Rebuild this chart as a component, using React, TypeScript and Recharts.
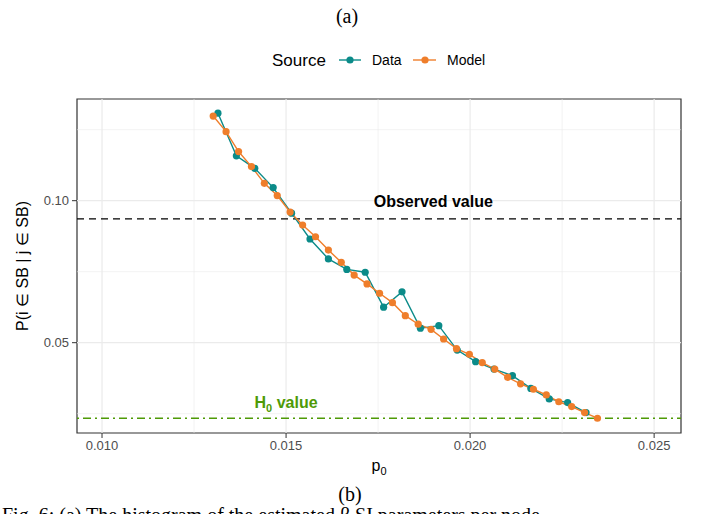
import React from 'react';
import { LineChart, Line, XAxis, YAxis, ReferenceLine, ReferenceArea, ReferenceDot } from 'recharts';

// p0 grid and P(i in SB | j in SB)
const dataP0 = [
  0.01315, 0.01365, 0.01415, 0.01465, 0.01515, 0.01565, 0.01615, 0.01665, 0.01715, 0.01765, 0.01815,
  0.01865, 0.01915, 0.01965, 0.02015, 0.02065, 0.02115, 0.02165, 0.02215, 0.02265, 0.02315,
];
const dataProb = [
  0.1308, 0.1158, 0.1114, 0.1046, 0.0956, 0.0865, 0.0795, 0.0758, 0.0748, 0.0625, 0.0679,
  0.0551, 0.056, 0.0474, 0.0433, 0.0407, 0.0384, 0.0339, 0.0302, 0.0289, 0.0254,
];
const modelP0 = [
  0.01302, 0.01337, 0.01371, 0.01406, 0.01441, 0.01476, 0.01511, 0.01545, 0.0158, 0.01615, 0.0165,
  0.01685, 0.0172, 0.01754, 0.01789, 0.01824, 0.01859, 0.01894, 0.01928, 0.01963, 0.01998, 0.02033,
  0.02067, 0.02102, 0.02137, 0.02172, 0.02207, 0.02241, 0.02276, 0.02311, 0.02346,
];
const modelProb = [
  0.1298, 0.1243, 0.1173, 0.112, 0.1061, 0.1018, 0.096, 0.0914, 0.0873, 0.0826, 0.0783,
  0.0738, 0.0707, 0.0674, 0.0641, 0.0595, 0.0565, 0.0547, 0.0513, 0.0479, 0.0459, 0.043,
  0.0407, 0.0378, 0.0355, 0.0336, 0.0316, 0.0292, 0.0275, 0.0254, 0.0234,
];

const observedValue = 0.0936;
const h0Value = 0.0234;

const xTicks = [0.01, 0.015, 0.02, 0.025];
const xMinor = [0.0125, 0.0175, 0.0225];
const yTicks = [0.05, 0.1];
const yMinor = [0.025, 0.075, 0.125];
const xDomain: [number, number] = [0.00932, 0.02573];
const yDomain: [number, number] = [0.0182, 0.1358];

const TEAL = '#0b8b89';
const ORANGE = '#ef7e2b';
const GREEN = '#4e9a06';
const FONT = '"Liberation Sans", Arial, sans-serif';
const SERIF = '"Liberation Serif", "Times New Roman", serif';

const dataRows = dataP0.map((x, i) => ({ x, y: dataProb[i] }));
const modelRows = modelP0.map((x, i) => ({ x, y: modelProb[i] }));

export default function App() {
  return (
    <div style={{ position: 'relative', width: 701, height: 514, background: '#fff', overflow: 'hidden' }}>
      <style>{'body{margin:0}'}</style>
      <LineChart width={701} height={514} margin={{ top: 99, right: 20, left: 0, bottom: 0 }}>
        <XAxis
          type="number"
          dataKey="x"
          domain={xDomain}
          ticks={xTicks}
          allowDataOverflow
          height={81}
          axisLine={false}
          tickSize={5}
          tickMargin={3}
          tickLine={{ stroke: '#333333' }}
          tick={{ fill: '#4d4d4d', fontSize: 13, fontFamily: FONT }}
          tickFormatter={(v: number) => v.toFixed(3)}
        />
        <YAxis
          type="number"
          dataKey="y"
          domain={yDomain}
          ticks={yTicks}
          allowDataOverflow
          width={77}
          axisLine={false}
          tickSize={5}
          tickMargin={3}
          tickLine={{ stroke: '#333333' }}
          tick={{ fill: '#4d4d4d', fontSize: 13, fontFamily: FONT }}
          tickFormatter={(v: number) => v.toFixed(2)}
        />
        {xMinor.map(v => <ReferenceLine key={'xm' + v} x={v} stroke="#ebebeb" strokeWidth={0.6} />)}
        {yMinor.map(v => <ReferenceLine key={'ym' + v} y={v} stroke="#ebebeb" strokeWidth={0.6} />)}
        {xTicks.map(v => <ReferenceLine key={'xM' + v} x={v} stroke="#ebebeb" strokeWidth={1.2} />)}
        {yTicks.map(v => <ReferenceLine key={'yM' + v} y={v} stroke="#ebebeb" strokeWidth={1.2} />)}

        <ReferenceLine y={observedValue} stroke="#000" strokeWidth={1.3} strokeDasharray="7 5" />
        <ReferenceLine y={h0Value} stroke={GREEN} strokeWidth={1.3} strokeDasharray="2 4 8 4" />

        <Line
          data={dataRows}
          dataKey="y"
          name="Data"
          stroke={TEAL}
          strokeWidth={1.4}
          dot={{ r: 3.6, fill: TEAL, stroke: TEAL, strokeWidth: 0 }}
          isAnimationActive={false}
        />
        <Line
          data={modelRows}
          dataKey="y"
          name="Model"
          stroke={ORANGE}
          strokeWidth={1.4}
          dot={{ r: 3.6, fill: ORANGE, stroke: ORANGE, strokeWidth: 0 }}
          isAnimationActive={false}
        />

        <ReferenceDot
          x={0.019}
          y={0.1}
          r={1}
          fill="none"
          stroke="none"
          label={({ viewBox }: any) => (
            <text
              x={viewBox.x + viewBox.width / 2}
              y={viewBox.y + viewBox.height / 2 + 6}
              textAnchor="middle"
              fontFamily={FONT}
              fontSize={16}
              fontWeight="bold"
              fill="#000"
            >
              Observed value
            </text>
          )}
        />
        <ReferenceDot
          x={0.015}
          y={0.0288}
          r={1}
          fill="none"
          stroke="none"
          label={({ viewBox }: any) => (
            <text
              x={viewBox.x + viewBox.width / 2}
              y={viewBox.y + viewBox.height / 2 + 5}
              textAnchor="middle"
              fontFamily={FONT}
              fontSize={16}
              fontWeight="bold"
              fill={GREEN}
            >
              H<tspan fontSize={11} dy={4}>0</tspan>
              <tspan dy={-4}> value</tspan>
            </text>
          )}
        />
        <ReferenceArea
          x1={xDomain[0]}
          x2={xDomain[1]}
          y1={yDomain[0]}
          y2={yDomain[1]}
          fill="none"
          fillOpacity={0}
          stroke="#333333"
          strokeWidth={1.2}
          ifOverflow="visible"
        />
      </LineChart>

      <svg width={701} height={514} style={{ position: 'absolute', left: 0, top: 0, pointerEvents: 'none' }}>
        <text x={347} y={23} textAnchor="middle" fontFamily={SERIF} fontSize={20} fill="#000">(a)</text>

        {/* legend */}
        <text x={272} y={66} fontFamily={FONT} fontSize={17} fill="#000">Source</text>
        <line x1={339} y1={60} x2={361} y2={60} stroke={TEAL} strokeWidth={1.4} />
        <circle cx={350} cy={60} r={3.6} fill={TEAL} />
        <text x={372} y={65} fontFamily={FONT} fontSize={14} fill="#000">Data</text>
        <line x1={413} y1={60} x2={436} y2={60} stroke={ORANGE} strokeWidth={1.4} />
        <circle cx={425} cy={60} r={3.6} fill={ORANGE} />
        <text x={447} y={65} fontFamily={FONT} fontSize={14} fill="#000">Model</text>

        {/* axis titles */}
        <text x={379} y={471} textAnchor="middle" fontFamily={FONT} fontSize={16} fill="#000">
          p<tspan fontSize={11} dy={4}>0</tspan>
        </text>
        <text
          x={0}
          y={0}
          transform="translate(28 266) rotate(-90)"
          textAnchor="middle"
          fontFamily={FONT}
          fontSize={16}
          fill="#000"
        >
          P(i ∈ SB | j ∈ SB)
        </text>

        <text x={350} y={501} textAnchor="middle" fontFamily={SERIF} fontSize={20} fill="#000">(b)</text>
        <text x={2} y={522} fontFamily={SERIF} fontSize={20} fill="#000">
          Fig. 6: (a) The histogram of the estimated β SI parameters per node
        </text>
      </svg>
    </div>
  );
}
